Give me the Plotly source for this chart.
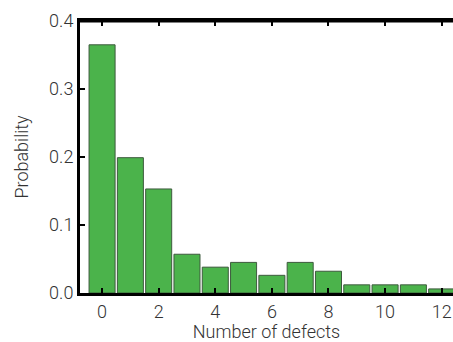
import plotly.graph_objects as go

defects = list(range(13))
probability = [0.365, 0.199, 0.153, 0.057, 0.038, 0.045, 0.026, 0.045, 0.032, 0.012, 0.012, 0.012, 0.006]
x_ticks = [0, 2, 4, 6, 8, 10, 12]
y_ticks = [0.0, 0.1, 0.2, 0.3, 0.4]
y_tick_labels = ["0.0", "0.1", "0.2", "0.3", "0.4"]

fig = go.Figure()
fig.add_trace(go.Bar(
    x=defects, y=probability, width=0.92,
    marker=dict(color="#4bb34b", line=dict(color="#3d5a3d", width=1)),
))

font = dict(family="Roboto", size=18, color="#333333", weight=300)
tfont = dict(family="Roboto", size=18, color="#333333", weight=300)

fig.update_layout(
    width=453, height=342,
    margin=dict(l=80, r=0, t=21, b=49, autoexpand=False),
    plot_bgcolor="white", paper_bgcolor="white",
    showlegend=False,
    font=font,
)
fig.update_xaxes(
    range=[-0.78, 12.4], tickvals=x_ticks, ticks="inside", ticklen=5, tickwidth=2,
    tickcolor="black", showline=True, linecolor="black", linewidth=3, mirror="ticks",
    showgrid=False, zeroline=False, automargin=False,
    title=dict(text="Number of defects", font=tfont, standoff=4),
    tickfont=font,
)
fig.update_yaxes(
    range=[0, 0.4], tickvals=y_ticks, ticktext=y_tick_labels, ticks="inside", ticklen=5, tickwidth=2,
    tickcolor="black", showline=True, linecolor="black", linewidth=3,
    showgrid=False, zeroline=False, automargin=False,
    title=dict(text="Probability", font=tfont, standoff=16),
    tickfont=font,
)
fig.add_shape(type="line", xref="paper", yref="paper", x0=0, x1=1, y0=1, y1=1,
              line=dict(color="black", width=3))
fig.write_html("out.html", config={"displayModeBar": False},
               post_script="document.body.style.margin='0px';document.body.style.overflow='hidden';")
